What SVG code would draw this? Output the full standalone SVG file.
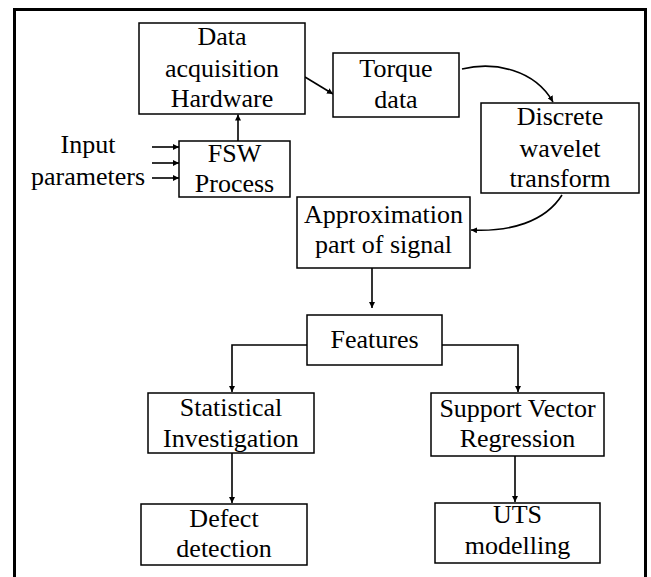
<svg xmlns="http://www.w3.org/2000/svg" width="651" height="577" viewBox="0 0 651 577">
<defs>
<marker id="ah" viewBox="0 0 10 10" refX="10" refY="5" markerWidth="6" markerHeight="6" markerUnits="userSpaceOnUse" orient="auto">
<path d="M0,0 L10,5 L0,10 z" fill="#000"/>
</marker>
</defs>
<rect x="0" y="0" width="651" height="577" fill="#fff"/>
<rect x="14.5" y="9.5" width="631" height="580" fill="none" stroke="#000" stroke-width="3"/>
<g id="connectors" fill="none" stroke="#000" stroke-width="1.6">
<path d="M238,141 L238,114.5" marker-end="url(#ah)"/>
<path d="M152,147 L179,147" marker-end="url(#ah)"/>
<path d="M152,163 L179,163" marker-end="url(#ah)"/>
<path d="M152,178 L179,178" marker-end="url(#ah)"/>
<path d="M305,77 L333,94" marker-end="url(#ah)"/>
<path d="M462,69 C495,61 535,70 553,102" marker-end="url(#ah)"/>
<path d="M562,195 C545,222 510,232 471,230" marker-end="url(#ah)"/>
<path d="M372,268 L372,308" marker-end="url(#ah)"/>
<path d="M307,345 L232,345 L232,392" marker-end="url(#ah)"/>
<path d="M442,345 L518,345 L518,392" marker-end="url(#ah)"/>
<path d="M232,453 L232,503" marker-end="url(#ah)"/>
<path d="M515,456 L515,502" marker-end="url(#ah)"/>
</g>
<g id="input">
<text x="88" y="153" font-size="26" font-family="Liberation Serif, Times New Roman, serif" text-anchor="middle">Input</text>
<text x="88" y="185" font-size="26" font-family="Liberation Serif, Times New Roman, serif" text-anchor="middle">parameters</text>
</g>
<g id="daq">
<rect x="139" y="23" width="166" height="91" fill="#fff" stroke="#000" stroke-width="1.5"/>
<text x="222" y="45" font-size="26" font-family="Liberation Serif, Times New Roman, serif" text-anchor="middle">Data</text>
<text x="222" y="77" font-size="26" font-family="Liberation Serif, Times New Roman, serif" text-anchor="middle">acquisition</text>
<text x="222" y="107" font-size="26" font-family="Liberation Serif, Times New Roman, serif" text-anchor="middle">Hardware</text>
</g>
<g id="fsw">
<rect x="179" y="141" width="111" height="56" fill="#fff" stroke="#000" stroke-width="1.5"/>
<text x="234.5" y="162" font-size="26" font-family="Liberation Serif, Times New Roman, serif" text-anchor="middle">FSW</text>
<text x="234.5" y="192" font-size="26" font-family="Liberation Serif, Times New Roman, serif" text-anchor="middle">Process</text>
</g>
<g id="torque">
<rect x="333" y="53" width="126" height="64" fill="#fff" stroke="#000" stroke-width="1.5"/>
<text x="396" y="77" font-size="26" font-family="Liberation Serif, Times New Roman, serif" text-anchor="middle">Torque</text>
<text x="396" y="108" font-size="26" font-family="Liberation Serif, Times New Roman, serif" text-anchor="middle">data</text>
</g>
<g id="dwt">
<rect x="481" y="103" width="158" height="90" fill="#fff" stroke="#000" stroke-width="1.5"/>
<text x="560" y="125" font-size="26" font-family="Liberation Serif, Times New Roman, serif" text-anchor="middle">Discrete</text>
<text x="560" y="157" font-size="26" font-family="Liberation Serif, Times New Roman, serif" text-anchor="middle">wavelet</text>
<text x="560" y="187" font-size="26" font-family="Liberation Serif, Times New Roman, serif" text-anchor="middle">transform</text>
</g>
<g id="approx">
<rect x="297" y="197" width="173" height="71" fill="#fff" stroke="#000" stroke-width="1.5"/>
<text x="383.5" y="223" font-size="26" font-family="Liberation Serif, Times New Roman, serif" text-anchor="middle">Approximation</text>
<text x="383.5" y="253" font-size="26" font-family="Liberation Serif, Times New Roman, serif" text-anchor="middle">part of signal</text>
</g>
<g id="features">
<rect x="307" y="315" width="135" height="50" fill="#fff" stroke="#000" stroke-width="1.5"/>
<text x="374.5" y="348" font-size="26" font-family="Liberation Serif, Times New Roman, serif" text-anchor="middle">Features</text>
</g>
<g id="stat">
<rect x="148" y="393" width="166" height="60" fill="#fff" stroke="#000" stroke-width="1.5"/>
<text x="231" y="416" font-size="26" font-family="Liberation Serif, Times New Roman, serif" text-anchor="middle">Statistical</text>
<text x="231" y="447" font-size="26" font-family="Liberation Serif, Times New Roman, serif" text-anchor="middle">Investigation</text>
</g>
<g id="svr">
<rect x="431" y="393" width="173" height="63" fill="#fff" stroke="#000" stroke-width="1.5"/>
<text x="517.5" y="417" font-size="26" font-family="Liberation Serif, Times New Roman, serif" text-anchor="middle">Support Vector</text>
<text x="517.5" y="447" font-size="26" font-family="Liberation Serif, Times New Roman, serif" text-anchor="middle">Regression</text>
</g>
<g id="defect">
<rect x="141" y="504" width="166" height="61" fill="#fff" stroke="#000" stroke-width="1.5"/>
<text x="224" y="527" font-size="26" font-family="Liberation Serif, Times New Roman, serif" text-anchor="middle">Defect</text>
<text x="224" y="557" font-size="26" font-family="Liberation Serif, Times New Roman, serif" text-anchor="middle">detection</text>
</g>
<g id="uts">
<rect x="435" y="503" width="165" height="60" fill="#fff" stroke="#000" stroke-width="1.5"/>
<text x="517.5" y="523" font-size="26" font-family="Liberation Serif, Times New Roman, serif" text-anchor="middle">UTS</text>
<text x="517.5" y="554" font-size="26" font-family="Liberation Serif, Times New Roman, serif" text-anchor="middle">modelling</text>
</g>
</svg>
